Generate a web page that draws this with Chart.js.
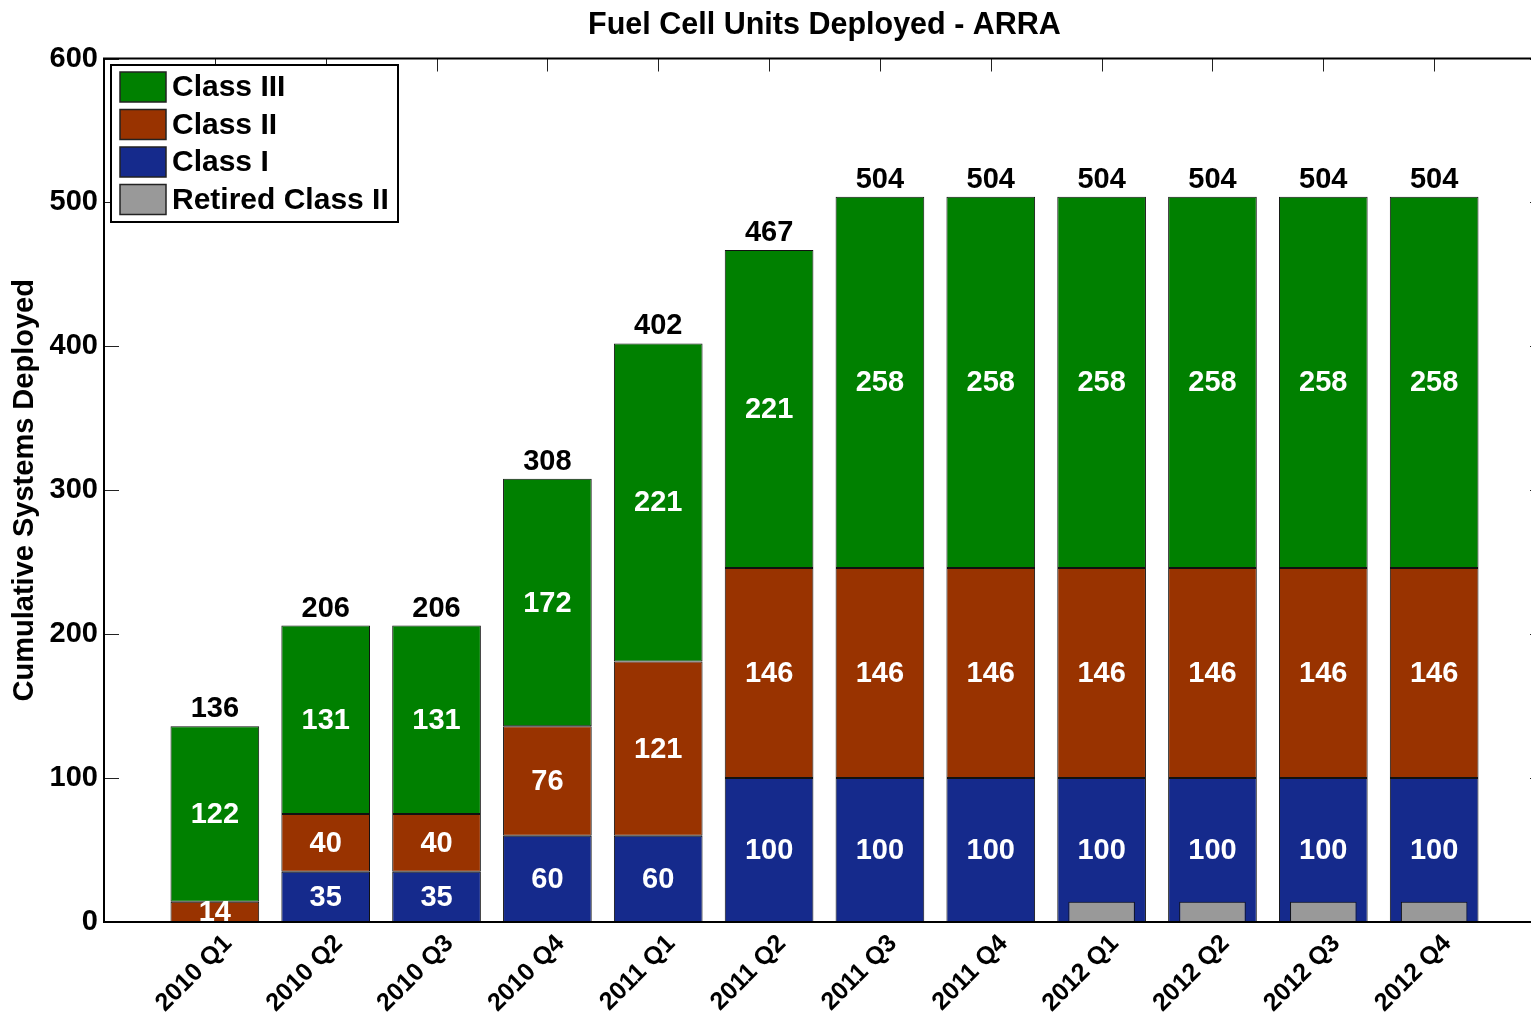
<!DOCTYPE html>
<html>
<head>
<meta charset="utf-8">
<title>Fuel Cell Units Deployed - ARRA</title>
<script src="https://cdn.jsdelivr.net/npm/chart.js@4.4.1/dist/chart.umd.min.js"></script>
<style>
  html, body { margin: 0; padding: 0; background: #fff; overflow: hidden; }
  #wrap { width: 1560px; height: 1012px; }
</style>
</head>
<body>
<div id="wrap"><canvas id="grafico" width="1560" height="1012"></canvas></div>
<script>
// quarters (empty slots at both ends so the axis runs from 0 to 13)
const trimestres = ["", "2010 Q1", "2010 Q2", "2010 Q3", "2010 Q4", "2011 Q1", "2011 Q2",
    "2011 Q3", "2011 Q4", "2012 Q1", "2012 Q2", "2012 Q3", "2012 Q4", ""];

// cumulative systems per class
const classeI   = [null, 0, 35, 35, 60, 60, 100, 100, 100, 100, 100, 100, 100, null];
const classeII  = [null, 14, 40, 40, 76, 121, 146, 146, 146, 146, 146, 146, 146, null];
const classeIII = [null, 122, 131, 131, 172, 221, 221, 258, 258, 258, 258, 258, 258, null];
const retiradosII = [null, null, null, null, null, null, null, null, null, 14, 14, 14, 14, null];

const yTicks = [0, 100, 200, 300, 400, 500, 600];

const fonte = '"Liberation Sans", Arial, sans-serif';
const cores = { III: "#008000", II: "#993300", I: "#152a8c", ret: "#999999" };

// numbers inside the segments and totals on top
const rotulos = {
    id: "rotulos",
    afterDatasetsDraw(chart) {
        const ctx = chart.ctx;
        ctx.save();
        ctx.textAlign = "center";
        ctx.textBaseline = "middle";
        ctx.font = "bold 29px " + fonte;
        ctx.fillStyle = "#fff";
        [0, 1, 2].forEach(i => {
            const meta = chart.getDatasetMeta(i);
            const valores = chart.data.datasets[i].data;
            meta.data.forEach((bar, j) => {
                if (!valores[j]) return;
                ctx.fillText(String(valores[j]), bar.x, (bar.y + bar.base) / 2 + 1);
            });
        });
        // totals
        ctx.fillStyle = "#000";
        ctx.textBaseline = "alphabetic";
        const topo = chart.getDatasetMeta(2);
        topo.data.forEach((bar, j) => {
            if (classeIII[j] == null) return;
            const total = (classeI[j] || 0) + (classeII[j] || 0) + (classeIII[j] || 0);
            ctx.fillText(String(total), bar.x, bar.y - 9);
        });
        ctx.restore();
    }
};

// inward ticks, drawn under the bars
const marcas = {
    id: "marcas",
    beforeDatasetsDraw(chart) {
        const { ctx, chartArea: a, scales } = chart;
        ctx.save();
        ctx.strokeStyle = "#222";
        ctx.lineWidth = 1;
        ctx.beginPath();
        yTicks.forEach(v => {
            const y = Math.round(scales.y.getPixelForValue(v)) + 0.5;
            ctx.moveTo(a.left, y); ctx.lineTo(a.left + 15, y);
            ctx.moveTo(a.right, y); ctx.lineTo(a.right - 15, y);
        });
        for (let i = 1; i <= 12; i++) {
            const x = Math.round(scales.x.getPixelForValue(i)) + 0.5;
            ctx.moveTo(x, a.top); ctx.lineTo(x, a.top + 13);
            ctx.moveTo(x, a.bottom); ctx.lineTo(x, a.bottom - 13);
        }
        ctx.stroke();
        ctx.restore();
    },
    afterDraw(chart) {
        const { ctx, chartArea: a } = chart;
        ctx.save();
        ctx.strokeStyle = "#000";
        ctx.lineWidth = 2;
        ctx.strokeRect(a.left, a.top, a.right - a.left, a.bottom - a.top);

        // legend box inside the plot
        const itens = [2, 1, 0, 3];
        const bx = 111, by = 65, bw = 287, bh = 157;
        ctx.fillStyle = "#fff";
        ctx.fillRect(bx, by, bw, bh);
        ctx.strokeRect(bx, by, bw, bh);
        ctx.font = "bold 30px " + fonte;
        ctx.textAlign = "left";
        ctx.textBaseline = "middle";
        ctx.lineWidth = 1.5;
        itens.forEach((i, k) => {
            const ds = chart.data.datasets[i];
            const cy = 87 + k * 37.5;
            ctx.fillStyle = ds.backgroundColor;
            ctx.fillRect(120, cy - 15, 46, 30);
            ctx.strokeStyle = "#222";
            ctx.strokeRect(120, cy - 15, 46, 30);
            ctx.fillStyle = "#000";
            ctx.fillText(ds.label, 172, cy + 1);
        });
        ctx.restore();
    }
};

const ctx = document.getElementById("grafico").getContext("2d");
new Chart(ctx, {
    type: "bar",
    data: {
        labels: trimestres,
        datasets: [
            { label: "Class I", data: classeI, backgroundColor: cores.I, stack: "a" },
            { label: "Class II", data: classeII, backgroundColor: cores.II, stack: "a" },
            { label: "Class III", data: classeIII, backgroundColor: cores.III, stack: "a" },
            { label: "Retired Class II", data: retiradosII, backgroundColor: cores.ret,
              stack: "r", grouped: false, order: -1, barPercentage: 0.6 }
        ]
    },
    options: {
        responsive: false,
        animation: false,
        devicePixelRatio: 1,
        layout: { padding: { left: 0, right: 15, top: 0, bottom: 0 } },
        datasets: {
            bar: {
                borderColor: "#111",
                borderWidth: 1,
                borderSkipped: false,
                barPercentage: 0.8,
                categoryPercentage: 1
            }
        },
        scales: {
            x: {
                type: "category",
                offset: false,
                stacked: true,
                grid: { display: false, drawTicks: false },
                border: { display: false },
                ticks: {
                    autoSkip: false,
                    maxRotation: 45,
                    minRotation: 45,
                    padding: 7,
                    labelOffset: 13,
                    color: "#000",
                    font: { family: fonte, size: 25, weight: "bold" }
                },
                afterFit: s => { s.height = 90; s.paddingLeft = 0; s.paddingRight = 0; }
            },
            y: {
                min: 0,
                max: 600,
                stacked: true,
                grid: { display: false, drawTicks: false },
                border: { display: false },
                ticks: {
                    stepSize: 100,
                    padding: 6,
                    color: "#000",
                    font: { family: fonte, size: 29, weight: "bold" }
                },
                title: {
                    display: true,
                    text: "Cumulative Systems Deployed",
                    color: "#000",
                    padding: { top: 8, bottom: 0 },
                    font: { family: fonte, size: 29, weight: "bold", lineHeight: 1.2 }
                },
                afterFit: s => { s.width = 104; }
            }
        },
        plugins: {
            legend: { display: false },
            tooltip: { enabled: false },
            title: {
                display: true,
                fullSize: false,
                text: "Fuel Cell Units Deployed - ARRA",
                color: "#000",
                padding: { top: 10, bottom: 18 },
                font: { family: fonte, size: 30.5, weight: "bold", lineHeight: 1 }
            }
        }
    },
    plugins: [rotulos, marcas]
});
</script>
</body>
</html>
